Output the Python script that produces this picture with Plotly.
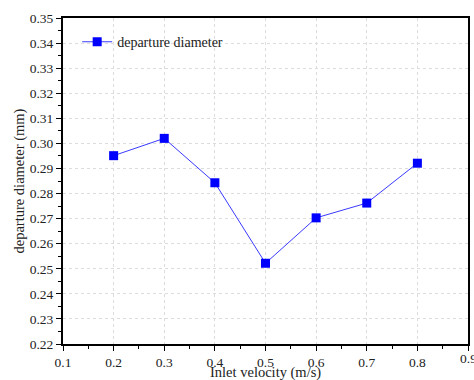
import plotly.graph_objects as go

# Inlet velocity (m/s) and measured bubble departure diameter (mm)
inlet_velocity = [0.2, 0.3, 0.4, 0.5, 0.6, 0.7, 0.8]
departure_diameter = [0.2951, 0.3020, 0.2843, 0.2522, 0.2703, 0.2762, 0.2921]

x_ticks = [0.1, 0.2, 0.3, 0.4, 0.5, 0.6, 0.7, 0.8, 0.9]
y_ticks = [0.22, 0.23, 0.24, 0.25, 0.26, 0.27, 0.28, 0.29, 0.30,
           0.31, 0.32, 0.33, 0.34, 0.35]

x_title = "Inlet velocity (m/s)"
y_title = "departure diameter (mm)"

serif = "Liberation Serif, Times New Roman, serif"
tick_font = dict(family=serif, size=13.5, color="#222")
title_font = dict(family=serif, size=14.5, color="#222")

fig = go.Figure()
fig.add_trace(go.Scatter(
    x=inlet_velocity,
    y=departure_diameter,
    mode="lines+markers",
    name="departure diameter",
    line=dict(color="#3a3aff", width=1),
    marker=dict(symbol="square", size=9, color="#0000ff"),
))

axis_common = dict(
    automargin=False,
    showline=True,
    linecolor="black",
    linewidth=2,
    mirror=True,
    ticks="outside",
    ticklen=5,
    tickwidth=1.2,
    tickcolor="black",
    showgrid=True,
    gridcolor="#dcdcdc",
    griddash="dot",
    gridwidth=1,
    zeroline=False,
    tickfont=tick_font,
)

fig.update_xaxes(
    **axis_common,
    range=[x_ticks[0], x_ticks[-1]],
    tickvals=x_ticks,
    ticktext=[f"{v:.1f}" for v in x_ticks],
    minor=dict(ticks="outside", ticklen=3, dtick=0.05, tickcolor="black",
               showgrid=False),
)
fig.update_yaxes(
    **axis_common,
    range=[y_ticks[0], y_ticks[-1]],
    tickvals=y_ticks,
    ticktext=[f"{v:.2f}" for v in y_ticks],
    minor=dict(ticks="outside", ticklen=3, dtick=0.005, tickcolor="black",
               showgrid=False),
)

# the last x tick label sits on the right edge of the figure; plotly drops it,
# so draw it as an annotation aligned with the other tick labels
fig.add_annotation(text=f"{x_ticks[-1]:.1f}", xref="x", yref="paper",
                   x=x_ticks[-1], y=0, yanchor="top", yshift=-5,
                   showarrow=False, font=tick_font)

# axis titles placed relative to the plotting area
fig.add_annotation(text=x_title, xref="paper", yref="paper", x=0.5, y=0,
                   yanchor="top", yshift=-18, showarrow=False,
                   font=title_font)
fig.add_annotation(text=y_title, xref="paper", yref="paper", x=0, y=0.5,
                   xanchor="right", xshift=-34, textangle=-90, showarrow=False,
                   font=title_font)

fig.update_layout(
    width=474,
    height=380,
    margin=dict(l=63, r=6, t=18, b=36),
    paper_bgcolor="white",
    plot_bgcolor="white",
    showlegend=True,
    legend=dict(
        x=0.035, y=0.975, xanchor="left", yanchor="top",
        bgcolor="rgba(0,0,0,0)",
        font=dict(family=serif, size=14, color="#222"),
        itemwidth=30,
    ),
)

fig.write_html("out.html")
